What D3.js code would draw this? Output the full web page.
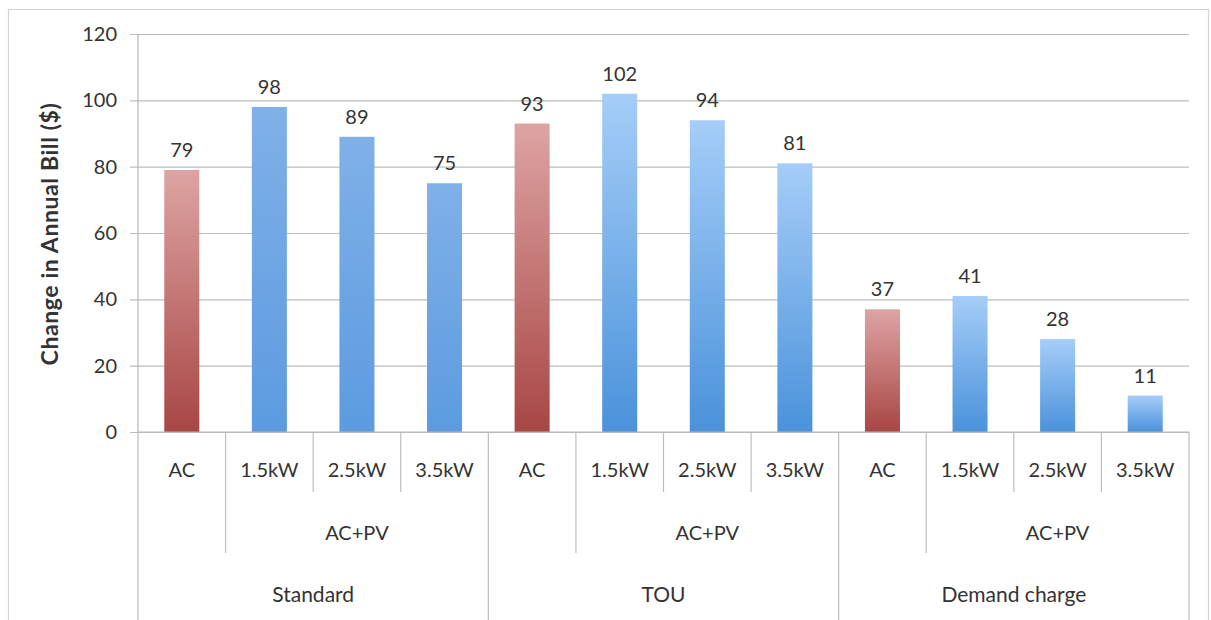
<!DOCTYPE html>
<html>
<head>
<meta charset="utf-8">
<script src="https://cdn.jsdelivr.net/npm/d3@7"></script>
<style>
  html, body { margin: 0; padding: 0; background: #fff; }
  svg { display: block; }
  text { font-family: Lato, "Open Sans", sans-serif; fill: #333; }
</style>
</head>
<body>
<svg id="chart" width="1211" height="620"></svg>
<script>
// Tariff groups, cases within each group and the annual bill change ($)
const groups = ["Standard", "TOU", "Demand charge"];
const cases = ["AC", "1.5kW", "2.5kW", "3.5kW"];
const subGroupLabel = "AC+PV";
const standardValues = [79, 98, 89, 75];
const touValues = [93, 102, 94, 81];
const demandValues = [37, 41, 28, 11];
const yTicks = [0, 20, 40, 60, 80, 100, 120];
const yTitle = "Change in Annual Bill ($)";

const seriesByGroup = [standardValues, touValues, demandValues];
const rows = [];
groups.forEach((g, gi) => {
  cases.forEach((c, ci) => {
    rows.push({ group: g, gi, label: c, ci, key: g + "|" + c, value: seriesByGroup[gi][ci] });
  });
});

const svg = d3.select("#chart");
const W = 1211, H = 620;
const plot = { left: 138, right: 1189, top: 34, bottom: 432 };
const fs = 20;

// Outer chart frame
svg.append("rect")
  .attr("x", 8.5).attr("y", 9.5)
  .attr("width", 1200).attr("height", 640)
  .attr("fill", "#fff").attr("stroke", "#d4d4d4").attr("stroke-width", 1.2);

const x = d3.scaleBand()
  .domain(rows.map(d => d.key))
  .range([plot.left, plot.right])
  .paddingInner(0.6)
  .paddingOuter(0.3);

const y = d3.scaleLinear().domain([0, 120]).range([plot.bottom, plot.top]);

// Gradients: darker at the base of each bar
const defs = svg.append("defs");
function grad(id, top, bottom) {
  const g = defs.append("linearGradient").attr("id", id)
    .attr("x1", 0).attr("y1", 0).attr("x2", 0).attr("y2", 1);
  g.append("stop").attr("offset", "0%").attr("stop-color", top);
  g.append("stop").attr("offset", "100%").attr("stop-color", bottom);
}
grad("redFill", "#dda4a3", "#a84644");
grad("blueFillStd", "#80b0e8", "#5c9be0");
grad("blueFill", "#a5cdf8", "#4a92db");

// Gridlines and y-axis
const yAxis = d3.axisLeft(y)
  .tickValues(yTicks)
  .tickSize(-(plot.right - plot.left))
  .tickPadding(21)
  .tickFormat(d3.format("d"));
const gy = svg.append("g").attr("transform", `translate(${plot.left},0)`).call(yAxis);
gy.select(".domain").remove();
gy.selectAll(".tick line")
  .attr("x1", -8)
  .attr("stroke", "#bdbdbd").attr("stroke-width", 1.2);
gy.selectAll(".tick text")
  .attr("font-size", fs).attr("fill", "#333")
  .style("font-family", "Lato, 'Open Sans', sans-serif");

// Vertical value axis line
svg.append("line")
  .attr("x1", plot.left).attr("x2", plot.left)
  .attr("y1", plot.top).attr("y2", plot.bottom)
  .attr("stroke", "#b5b5b5").attr("stroke-width", 1.2);

// Bars
svg.append("g").selectAll("rect").data(rows).join("rect")
  .attr("x", d => x(d.key))
  .attr("y", d => y(d.value))
  .attr("width", x.bandwidth())
  .attr("height", d => y(0) - y(d.value))
  .attr("fill", d => d.ci === 0 ? "url(#redFill)" : (d.gi === 0 ? "url(#blueFillStd)" : "url(#blueFill)"));

// Value labels
svg.append("g").selectAll("text").data(rows).join("text")
  .attr("x", d => x(d.key) + x.bandwidth() / 2)
  .attr("y", d => y(d.value) - 13)
  .attr("text-anchor", "middle")
  .attr("font-size", fs)
  .text(d => d.value);

// Category axis baseline
svg.append("line")
  .attr("x1", plot.left).attr("x2", plot.right)
  .attr("y1", plot.bottom).attr("y2", plot.bottom)
  .attr("stroke", "#b5b5b5").attr("stroke-width", 1.2);

// Multi-level category axis
const step = x.step();
const slotLeft = i => plot.left + i * step;
const catAxis = svg.append("g");

// Separators: between cases, between AC and AC+PV, between groups
for (let i = 0; i <= rows.length; i++) {
  let y2;
  if (i % 4 === 0) y2 = H + 10;
  else if (i % 4 === 1) y2 = 553;
  else y2 = 492;
  catAxis.append("line")
    .attr("x1", slotLeft(i)).attr("x2", slotLeft(i))
    .attr("y1", plot.bottom).attr("y2", y2)
    .attr("stroke", "#bdbdbd").attr("stroke-width", 1.2);
}

// Level 1: case labels
catAxis.selectAll("text.case").data(rows).join("text")
  .attr("class", "case")
  .attr("x", d => x(d.key) + x.bandwidth() / 2)
  .attr("y", 470)
  .attr("dy", "0.35em")
  .attr("text-anchor", "middle")
  .attr("font-size", fs)
  .text(d => d.label);

// Level 2: AC+PV spanning the three PV sizes
catAxis.selectAll("text.sub").data(groups).join("text")
  .attr("class", "sub")
  .attr("x", (g, gi) => (slotLeft(gi * 4 + 1) + slotLeft(gi * 4 + 4)) / 2)
  .attr("y", 533)
  .attr("dy", "0.35em")
  .attr("text-anchor", "middle")
  .attr("font-size", fs)
  .text(subGroupLabel);

// Level 3: tariff groups
catAxis.selectAll("text.grp").data(groups).join("text")
  .attr("class", "grp")
  .attr("x", (g, gi) => (slotLeft(gi * 4) + slotLeft(gi * 4 + 4)) / 2)
  .attr("y", 595)
  .attr("dy", "0.35em")
  .attr("text-anchor", "middle")
  .attr("font-size", fs + 1)
  .text(g => g);

// Y-axis title
svg.append("text")
  .attr("transform", `translate(50,${(95 + 373) / 2}) rotate(-90)`)
  .attr("text-anchor", "middle")
  .attr("dy", "0.35em")
  .attr("font-size", 23)
  .attr("font-weight", "bold")
  .attr("letter-spacing", 0.6)
  .text(yTitle);
</script>
</body>
</html>
